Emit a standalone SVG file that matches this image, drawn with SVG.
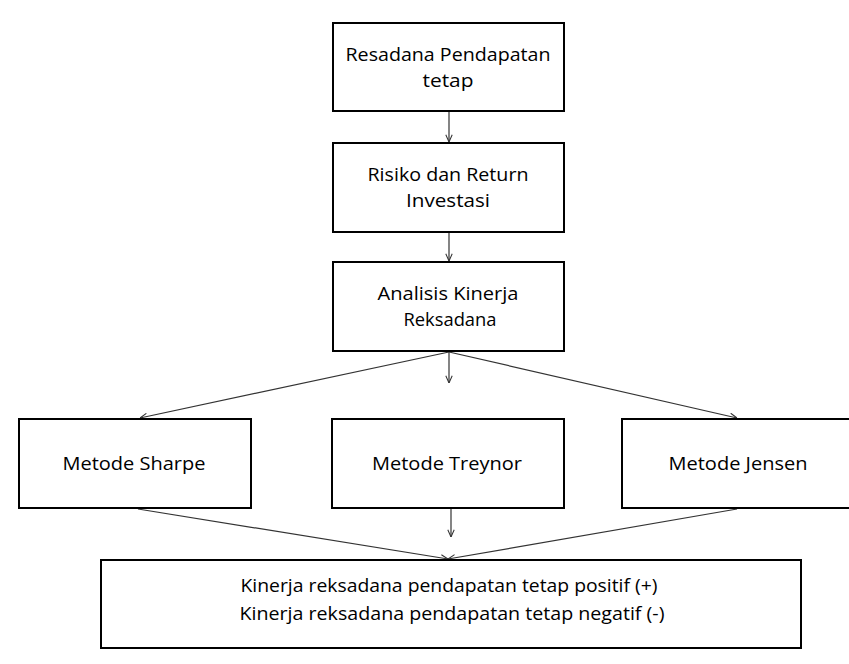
<svg xmlns="http://www.w3.org/2000/svg" width="849" height="664" viewBox="0 0 849 664">
<style>
.box{fill:#fff;stroke:#000;stroke-width:2}
.lbl{font-family:"Open Sans","Liberation Sans",sans-serif;font-size:18.5px;fill:#000;text-anchor:middle}
.con{stroke:#333;stroke-width:1.2;fill:none}
</style>
<defs>
<marker id="ah" viewBox="0 0 10 10" refX="10" refY="5" markerWidth="8" markerHeight="8" markerUnits="userSpaceOnUse" orient="auto">
<path d="M1,1 L10,5 L1,9" fill="none" stroke="#333" stroke-width="1.3"/>
</marker>
</defs>
<rect width="849" height="664" fill="#fff"/>
<g id="connectors">
<line class="con" x1="449" y1="112" x2="449" y2="142" marker-end="url(#ah)"/>
<line class="con" x1="449" y1="233" x2="449" y2="261" marker-end="url(#ah)"/>
<line class="con" x1="449" y1="352" x2="449" y2="383" marker-end="url(#ah)"/>
<line class="con" x1="449" y1="352" x2="140" y2="418" marker-end="url(#ah)"/>
<line class="con" x1="449" y1="352" x2="737" y2="418" marker-end="url(#ah)"/>
<line class="con" x1="451" y1="509" x2="451" y2="537" marker-end="url(#ah)"/>
<line class="con" x1="138" y1="509" x2="448" y2="559" marker-end="url(#ah)"/>
<line class="con" x1="737" y1="509" x2="448" y2="559" marker-end="url(#ah)"/>
</g>
<g id="n1">
<rect class="box" x="333" y="23" width="231" height="88"/>
<text class="lbl" x="448" y="61" textLength="205" lengthAdjust="spacingAndGlyphs">Resadana Pendapatan</text>
<text class="lbl" x="448" y="87" textLength="51" lengthAdjust="spacingAndGlyphs">tetap</text>
</g>
<g id="n2">
<rect class="box" x="333" y="143" width="231" height="89"/>
<text class="lbl" x="448" y="181" textLength="161" lengthAdjust="spacingAndGlyphs">Risiko dan Return</text>
<text class="lbl" x="448" y="207" textLength="84" lengthAdjust="spacingAndGlyphs">Investasi</text>
</g>
<g id="n3">
<rect class="box" x="333" y="262" width="231" height="89"/>
<text class="lbl" x="448" y="300" textLength="141" lengthAdjust="spacingAndGlyphs">Analisis Kinerja</text>
<text class="lbl" x="450" y="326" textLength="93" lengthAdjust="spacingAndGlyphs">Reksadana</text>
</g>
<g id="n4">
<rect class="box" x="19" y="419" width="232" height="89"/>
<text class="lbl" x="134" y="470" textLength="143" lengthAdjust="spacingAndGlyphs">Metode Sharpe</text>
</g>
<g id="n5">
<rect class="box" x="332" y="419" width="232" height="89"/>
<text class="lbl" x="447" y="470" textLength="150" lengthAdjust="spacingAndGlyphs">Metode Treynor</text>
</g>
<g id="n6">
<rect class="box" x="622" y="419" width="232" height="89"/>
<text class="lbl" x="738" y="470" textLength="139" lengthAdjust="spacingAndGlyphs">Metode Jensen</text>
</g>
<g id="n7">
<rect class="box" x="101" y="560" width="700" height="88"/>
<text class="lbl" x="449" y="592" textLength="417" lengthAdjust="spacingAndGlyphs">Kinerja reksadana pendapatan tetap positif (+)</text>
<text class="lbl" x="452" y="620" textLength="425" lengthAdjust="spacingAndGlyphs">Kinerja reksadana pendapatan tetap negatif (-)</text>
</g>
</svg>
